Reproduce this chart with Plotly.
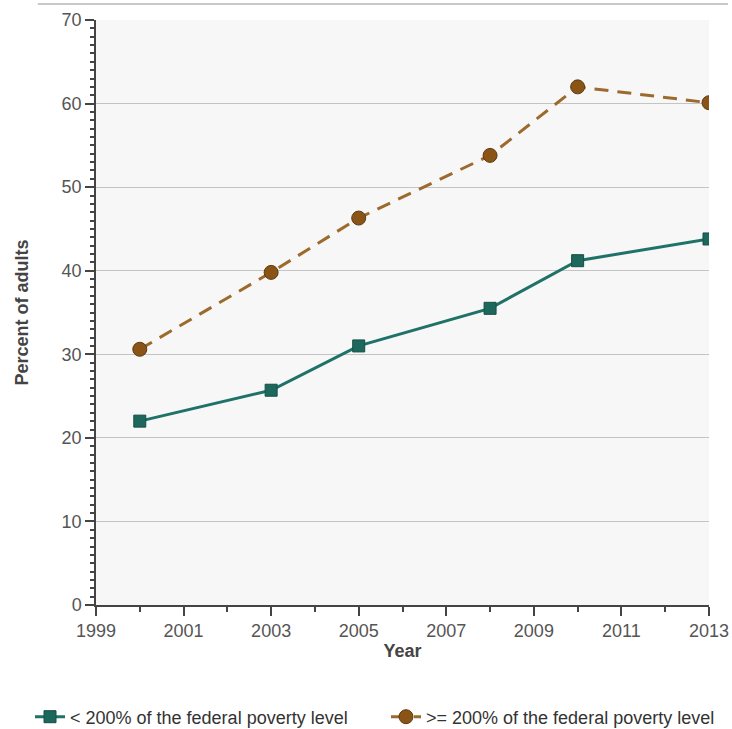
import plotly.graph_objects as go

years = [2000, 2003, 2005, 2008, 2010, 2013]
below_200 = [22.0, 25.7, 31.0, 35.5, 41.2, 43.8]
above_200 = [30.6, 39.8, 46.3, 53.8, 62.0, 60.1]
series_names = ["< 200% of the federal poverty level", ">= 200% of the federal poverty level"]
x_ticks = [1999, 2001, 2003, 2005, 2007, 2009, 2011, 2013]
y_ticks = [0, 10, 20, 30, 40, 50, 60, 70]

FONT = "Liberation Sans, Arial, sans-serif"

fig = go.Figure()
fig.add_trace(go.Scatter(
    x=years, y=below_200, name=series_names[0], mode="lines+markers",
    line=dict(color="#1f7268", width=3),
    marker=dict(symbol="square", size=12, color="#1d675d", line=dict(color="#164e47", width=1)),
    legend="legend",
))
fig.add_trace(go.Scatter(
    x=years, y=above_200, name=series_names[1], mode="lines+markers",
    line=dict(color="#9c6a2c", width=3, dash="14px,9px"),
    marker=dict(symbol="circle", size=14, color="#8a5417", line=dict(color="#5e3a10", width=1)),
    legend="legend2",
))

legend_common = dict(
    orientation="h", xref="container", yref="container",
    yanchor="middle", xanchor="left", y=1 - 717 / 729,
    font=dict(family=FONT, size=18, color="#333333"),
    itemwidth=30, bgcolor="rgba(0,0,0,0)",
)

fig.update_layout(
    width=732, height=729,
    margin=dict(l=96, r=23, t=20, b=124, autoexpand=False),
    paper_bgcolor="white",
    plot_bgcolor="#f7f7f7",
    font=dict(family=FONT, size=18, color="#555555"),
    showlegend=True,
    legend=dict(x=30 / 732, **legend_common),
    legend2=dict(x=386 / 732, **legend_common),
    shapes=[dict(type="line", xref="paper", yref="paper", x0=-0.095, x1=1.031, y0=1.0274, y1=1.0274,
                 line=dict(color="#c8c8c8", width=2), layer="above")],
)

fig.update_xaxes(
    range=[1999, 2013], tickmode="array", tickvals=x_ticks, ticktext=[str(v) for v in x_ticks],
    automargin=False,
    showgrid=False, zeroline=False,
    showline=True, linecolor="#444444", linewidth=1.5,
    ticks="outside", ticklen=9, tickcolor="#444444", tickwidth=1.5,
    minor=dict(ticks="outside", ticklen=5, tickcolor="#444444", dtick=1, tick0=1999, showgrid=False),
    tickfont=dict(size=18, color="#555555"),
    title=dict(text="<b>Year</b>", font=dict(size=18, color="#444444"), standoff=4),
)
fig.update_yaxes(
    range=[0, 70], tickmode="array", tickvals=y_ticks, ticktext=[str(v) for v in y_ticks],
    automargin=False,
    showgrid=True, gridcolor="#c4c4c4", gridwidth=1, zeroline=False,
    showline=True, linecolor="#444444", linewidth=1.5,
    ticks="outside", ticklen=9, tickcolor="#444444", tickwidth=1.5,
    minor=dict(ticks="outside", ticklen=4, tickcolor="#444444", dtick=1, tick0=0, showgrid=False),
    tickfont=dict(size=18, color="#555555"),
    title=dict(text="<b>Percent of adults</b>", font=dict(size=18, color="#444444"), standoff=28),
)

fig.write_html("out.html", config={"displayModeBar": False},
               post_script="document.body.style.margin='0';")
